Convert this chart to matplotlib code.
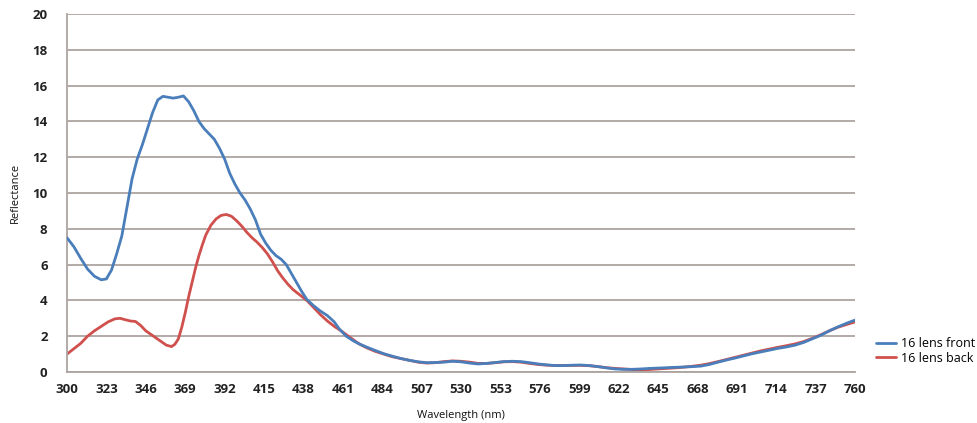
import matplotlib
matplotlib.use("Agg")
import matplotlib.pyplot as plt

# ---- data ----
front_nm = [300, 304, 308, 312, 316, 320, 323, 326, 329, 332, 335, 338, 341, 344, 347, 350,
            353, 356, 359, 362, 365, 368, 371, 374, 377, 380, 383, 386, 389, 392, 395, 398,
            401, 404, 407, 410, 413, 416, 419, 422, 425, 428, 431, 434, 437, 440, 444, 448,
            452, 456, 459, 463, 467, 471, 476, 480, 485, 490, 495, 500, 505, 510, 515, 520,
            525, 530, 535, 540, 545, 550, 555, 560, 565, 570, 575, 580, 585, 590, 595, 600,
            605, 610, 615, 620, 625, 630, 635, 640, 645, 650, 655, 660, 665, 670, 675, 680,
            685, 690, 695, 700, 705, 710, 715, 720, 725, 730, 735, 740, 745, 750, 755, 760]
front_val = [7.5, 7.0, 6.35, 5.75, 5.35, 5.15, 5.2, 5.7, 6.6, 7.6, 9.2, 10.8, 11.9, 12.7, 13.6, 14.5,
             15.2, 15.4, 15.35, 15.3, 15.35, 15.42, 15.1, 14.6, 14.0, 13.6, 13.3, 13.0, 12.5, 11.9, 11.1, 10.5,
             10.0, 9.6, 9.1, 8.5, 7.7, 7.2, 6.8, 6.5, 6.3, 6.0, 5.5, 5.0, 4.5, 4.05, 3.7, 3.4,
             3.15, 2.8, 2.4, 2.0, 1.75, 1.55, 1.35, 1.2, 1.02, 0.88, 0.75, 0.65, 0.57, 0.52, 0.53, 0.55,
             0.6, 0.57, 0.5, 0.45, 0.48, 0.53, 0.58, 0.6, 0.58, 0.52, 0.45, 0.4, 0.36, 0.36, 0.38, 0.39,
             0.36, 0.3, 0.23, 0.17, 0.15, 0.15, 0.17, 0.2, 0.22, 0.24, 0.26, 0.28, 0.3, 0.33, 0.42, 0.55,
             0.67, 0.78, 0.9, 1.02, 1.12, 1.22, 1.32, 1.4, 1.5, 1.65, 1.85, 2.05, 2.3, 2.52, 2.72, 2.9]

back_nm = [300, 304, 308, 312, 316, 320, 324, 328, 331, 334, 337, 340, 343, 346, 349, 352,
           355, 358, 361, 363, 365, 367, 369, 371, 373, 375, 377, 379, 381, 384, 387, 390,
           393, 396, 399, 402, 405, 408, 411, 414, 417, 420, 423, 426, 429, 432, 436, 440,
           444, 448, 452, 456, 460, 465, 470, 475, 480, 485, 490, 495, 500, 505, 510, 515,
           520, 525, 530, 535, 540, 545, 550, 555, 560, 565, 570, 575, 580, 585, 590, 595,
           600, 605, 610, 615, 620, 625, 630, 635, 640, 645, 650, 655, 660, 665, 670, 675,
           680, 685, 690, 695, 700, 705, 710, 715, 720, 725, 730, 735, 740, 745, 750, 755, 760]
back_val = [1.0, 1.3, 1.6, 2.0, 2.3, 2.55, 2.8, 2.97, 3.0, 2.92, 2.85, 2.82, 2.6, 2.3, 2.1, 1.9,
            1.7, 1.5, 1.42, 1.55, 1.85, 2.5, 3.3, 4.2, 5.0, 5.8, 6.5, 7.1, 7.65, 8.2, 8.55, 8.75,
            8.8, 8.7, 8.45, 8.15, 7.8, 7.5, 7.25, 6.95, 6.6, 6.15, 5.65, 5.25, 4.9, 4.6, 4.3, 4.0,
            3.6, 3.2, 2.85, 2.55, 2.3, 1.95, 1.6, 1.35, 1.15, 1.0, 0.85, 0.75, 0.65, 0.55, 0.5, 0.52,
            0.58, 0.62, 0.6, 0.55, 0.48, 0.48, 0.52, 0.57, 0.58, 0.55, 0.48, 0.42, 0.38, 0.36, 0.36, 0.37,
            0.37, 0.35, 0.3, 0.24, 0.2, 0.17, 0.14, 0.13, 0.14, 0.17, 0.2, 0.23, 0.27, 0.32, 0.38, 0.47,
            0.58, 0.7, 0.82, 0.94, 1.06, 1.18, 1.28, 1.38, 1.47, 1.57, 1.7, 1.88, 2.08, 2.3, 2.5, 2.65, 2.8]

x_ticks = [300, 323, 346, 369, 392, 415, 438, 461, 484, 507, 530, 553, 576, 599, 622,
           645, 668, 691, 714, 737, 760]
y_ticks = [0, 2, 4, 6, 8, 10, 12, 14, 16, 18, 20]
series_names = ["16 lens front", "16 lens back"]

plt.rcParams['font.family'] = ['Open Sans', 'DejaVu Sans']

fig = plt.figure(figsize=(9.78, 4.23), dpi=100)
ax = fig.add_axes([67/978, 1-372/423, (855-67)/978, (372-14)/423])

grid_c = '#aba4a0'
ax.set_xlim(300, 760)
ax.set_ylim(0, 20)
ax.set_yticks(y_ticks)
ax.set_xticks(x_ticks)
ax.set_xticklabels([str(v) for v in x_ticks])
ax.yaxis.grid(True, color=grid_c, linewidth=1.3)
ax.set_axisbelow(True)
for s in ['top', 'right']:
    ax.spines[s].set_visible(False)
for s in ['left', 'bottom']:
    ax.spines[s].set_color(grid_c)
    ax.spines[s].set_linewidth(1.3)
ax.tick_params(axis='both', length=0, labelsize=9.5, colors='#222222')
ax.tick_params(axis='x', pad=8)
ax.tick_params(axis='y', pad=14)
for lbl in ax.get_xticklabels() + ax.get_yticklabels():
    lbl.set_fontweight('bold')

l1, = ax.plot(front_nm, front_val, color='#4a7ebb', lw=2.0, solid_capstyle='round',
              solid_joinstyle='round', zorder=3, label=series_names[0])
l2, = ax.plot(back_nm, back_val, color='#d0504d', lw=2.0, solid_capstyle='round',
              solid_joinstyle='round', zorder=2, label=series_names[1])

ax.set_ylabel('Reflectance', fontsize=8, color='#111111', labelpad=8)
ax.set_xlabel('Wavelength (nm)', fontsize=8, color='#111111', labelpad=10)

fig.legend(handles=[l1, l2], labels=series_names, loc='center left',
           bbox_to_anchor=(870/978, 1-351/423), frameon=False, fontsize=9,
           handlelength=1.6, handletextpad=0.35, labelspacing=0.1, borderpad=0)

fig.savefig('out.png', dpi=100, facecolor='white')
